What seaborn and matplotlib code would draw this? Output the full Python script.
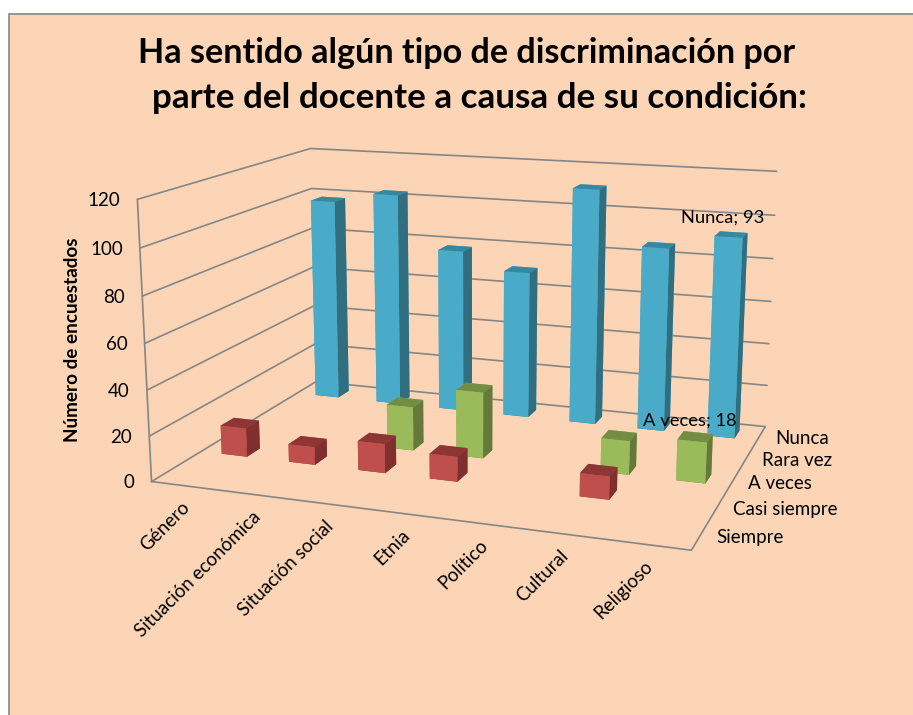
import seaborn as sns
import matplotlib
matplotlib.use("Agg")
import matplotlib.pyplot as plt
from matplotlib.patches import Rectangle
from mpl_toolkits.mplot3d import proj3d

categorias = ["Género", "Situación económica", "Situación social", "Etnia",
              "Político", "Cultural", "Religioso"]
respuestas = ["Siempre", "Casi siempre", "A veces", "Rara vez", "Nunca"]
casi_siempre = [13, 8, 13, 11, 0, 10, 0]
a_veces = [0, 0, 20, 30, 0, 15, 18]
nunca = [98, 103, 78, 70, 111, 86, 93]
ticks_z = [0, 20, 40, 60, 80, 100, 120]

FONDO = "#FBD5B5"
GRIS = "#868686"
# colores: frente, tapa, costado
AZUL = ("#4AABC8", "#37879F", "#316E80")
ROJO = ("#BF4F4C", "#8E3634", "#7F302E")
VERDE = ("#9ABB59", "#738E44", "#66793A")

sns.set_theme(style="white")
plt.rcParams["font.family"] = ["Lato", "DejaVu Sans"]

W, H = 913, 715
fig = plt.figure(figsize=(W / 100, H / 100), dpi=100, facecolor="white")
fig.add_artist(Rectangle((9 / W, -0.01), 1, 1.01 - 14 / H, transform=fig.transFigure,
                         facecolor=FONDO, edgecolor=GRIS, lw=1.2, zorder=-1))

# camara ajustada a las esquinas de la caja del original
ax = fig.add_axes([122.86 / W, 42.13 / H, 684.59 / W, 684.59 / H], projection="3d")
ax.patch.set_alpha(0)
ax.set_proj_type("persp", focal_length=0.4359)
ax.view_init(elev=13.725, azim=-70.4646)
ax.set_box_aspect((1.4102, 1.0, 0.7347))
ax.set_axis_off()
ax.computed_zorder = False

nx = len(categorias)
ny = len(respuestas)
zmax = ticks_z[-1]
ax.set_xlim(0, nx)
ax.set_ylim(0, ny)
ax.set_zlim(0, zmax)

# paredes y piso
for t in ticks_z:
    ax.plot([0, 0, nx], [0, ny, ny], [t, t, t], color=GRIS, lw=1.2, zorder=1)
ax.plot([0, nx, nx], [0, 0, ny], [0, 0, 0], color=GRIS, lw=1.2, zorder=1)
ax.plot([0, 0], [0, 0], [0, zmax], color=GRIS, lw=1.2, zorder=1)

ANCHO = 0.38
orden = 2
for fila, vals, col in [(4, nunca, AZUL), (2, a_veces, VERDE), (1, casi_siempre, ROJO)]:
    for i, v in enumerate(vals):
        if v > 0:
            # orden de caras: abajo, arriba, frente, fondo, izq, der
            caras = [col[2], col[1], col[0], col[0], col[0], col[2]]
            ax.bar3d(i + 0.5 - ANCHO / 2, fila + 0.5 - ANCHO / 2, 0, ANCHO, ANCHO, v,
                     color=caras, shade=False, linewidth=0, edgecolor="none", zorder=orden)
            orden += 1


def rotulo(x, y, z, texto, dx=0, dy=0, **kw):
    # proyecta el punto 3D y pone el texto con un corrimiento en pixeles
    px, py, _ = proj3d.proj_transform(x, y, z, ax.get_proj())
    ax.annotate(texto, (px, py), xytext=(dx, dy), textcoords="offset pixels",
                annotation_clip=False, zorder=50, color="black", **kw)


for t in ticks_z:
    rotulo(0, 0, t, str(t), dx=-17, dy=-1, fontsize=13.5, ha="right", va="center")
for i, c in enumerate(categorias):
    rotulo(i + 0.5, 0, 0, c, dx=-5, dy=-13, rotation=45, fontsize=13.5, ha="right", va="top",
           rotation_mode="anchor")
for j, r in enumerate(respuestas):
    rotulo(nx, j + 0.5, 0, r, dx=16, dy=-2, fontsize=13.5, ha="left", va="center")

rotulo(6.5, 4.5, nunca[6], "Nunca; 93", dx=-8, dy=17, fontsize=13.2, ha="center", va="center")
rotulo(6.5, 2.5, a_veces[6], "A veces; 18", dx=-5, dy=16, fontsize=13.2, ha="center", va="center")

fig.text(72 / W, 1 - 340 / H, "Número de encuestados", rotation=90, fontsize=13.6,
         fontweight="bold", ha="center", va="center", color="black")
fig.text(467 / W, 1 - 53 / H, "Ha sentido algún tipo de discriminación por",
         fontsize=24.6, fontweight="bold", ha="center", va="center", color="black")
fig.text(479 / W, 1 - 98 / H, "parte del docente a causa de su condición:",
         fontsize=25.2, fontweight="bold", ha="center", va="center", color="black")

fig.savefig("out.png", dpi=100)
